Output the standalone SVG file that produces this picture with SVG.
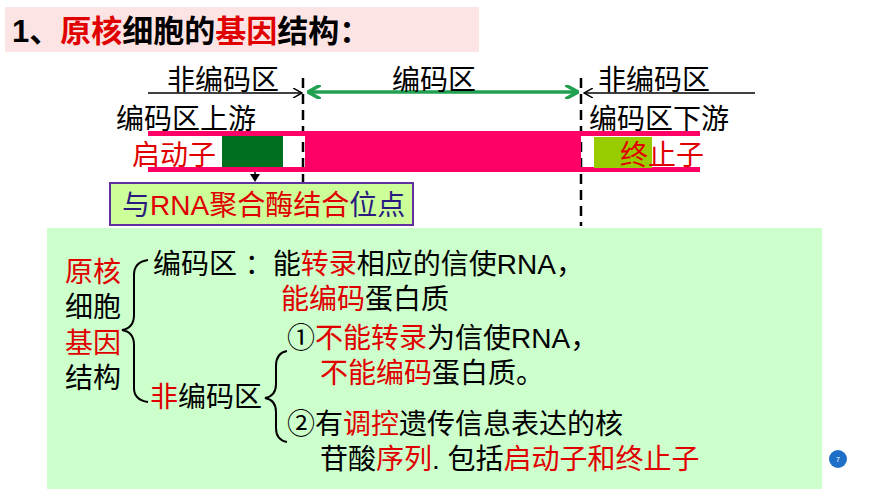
<svg xmlns="http://www.w3.org/2000/svg" width="870" height="489" viewBox="0 0 870 489">
<defs>
<style>
text{font-family:"Liberation Sans","Noto Sans CJK SC",sans-serif;font-size:28px;fill:#000}
.r{fill:#E00000}
.n{fill:#2A1A80}
</style>
<marker id="ab" viewBox="0 0 10 10" refX="9" refY="5" markerWidth="10" markerHeight="10" markerUnits="userSpaceOnUse" orient="auto"><path d="M0,0 L9,5 L0,10" fill="none" stroke="#000" stroke-width="1.5"/></marker>
<marker id="ag" viewBox="0 0 10 10" refX="9" refY="5" markerWidth="14" markerHeight="14" markerUnits="userSpaceOnUse" orient="auto-start-reverse"><path d="M0,0 L9,5 L0,10" fill="none" stroke="#20A050" stroke-width="2.5"/></marker>
</defs>
<rect width="870" height="489" fill="#fff"/>
<g id="title">
<rect x="5" y="7" width="474" height="45" fill="#FCE4E4"/>
<text x="12" y="42" style="font-size:31px;font-weight:bold">1、<tspan class="r">原核</tspan>细胞的<tspan class="r">基因</tspan>结构：</text>
</g>
<g id="connectors">
<line x1="148" y1="93" x2="302" y2="93" stroke="#000" stroke-width="1.5" marker-end="url(#ab)"/>
<line x1="755" y1="93" x2="584" y2="93" stroke="#000" stroke-width="1.5" marker-end="url(#ab)"/>
<line x1="308" y1="92" x2="578" y2="92" stroke="#20A050" stroke-width="3.5" marker-start="url(#ag)" marker-end="url(#ag)"/>
<line x1="303" y1="78" x2="303" y2="226" stroke="#000" stroke-width="2.5" stroke-dasharray="10,6"/>
<line x1="581" y1="78" x2="581" y2="226" stroke="#000" stroke-width="2.5" stroke-dasharray="10,6"/>
<line x1="255" y1="168" x2="255" y2="176" stroke="#000" stroke-width="1.5"/>
<path d="M250,174 L260,174 L255,182 Z" fill="#000"/>
</g>
<g id="labels">
<text x="167" y="90">非编码区</text>
<text x="392" y="90">编码区</text>
<text x="598" y="90">非编码区</text>
<text x="116" y="129">编码区上游</text>
<text x="589" y="129">编码区下游</text>
</g>
<g id="gene">
<rect x="148" y="131" width="552" height="5" fill="#FF0066"/>
<rect x="148" y="167" width="552" height="5" fill="#FF0066"/>
<rect x="305" y="131" width="276" height="41" fill="#FF0066"/>
<rect x="222" y="136" width="61" height="31" fill="#007020"/>
<rect x="594" y="137" width="58" height="31" fill="#99CC00"/>
<text x="132" y="165" class="r">启动子</text>
<text x="620" y="165" class="r">终止子</text>
</g>
<g id="site">
<rect x="110" y="183" width="303" height="42" fill="#CCFF99" stroke="#6030A0" stroke-width="2"/>
<text x="122" y="215"><tspan class="n">与</tspan><tspan class="r">RNA聚合酶结合</tspan><tspan class="n">位点</tspan></text>
</g>
<g id="summary">
<rect x="47" y="228" width="775" height="261" fill="#CCFFCC"/>
<text x="65" y="282" class="r">原核</text>
<text x="65" y="317">细胞</text>
<text x="65" y="353" class="r">基因</text>
<text x="65" y="388">结构</text>
<path d="M148,260 Q134,262 134,275 L134,315 Q134,328 122,330 Q134,332 134,345 L134,388 Q134,400 148,402" fill="none" stroke="#000" stroke-width="2"/>
<text x="153" y="274">编码区 ：能<tspan class="r">转录</tspan>相应的信使RNA，</text>
<text x="281" y="309"><tspan class="r">能编码</tspan>蛋白质</text>
<text x="150" y="407"><tspan class="r">非</tspan>编码区</text>
<path d="M287,351 Q276,353 276,366 L276,384 Q276,396 265,398 Q276,400 276,412 L276,428 Q276,440 287,442" fill="none" stroke="#000" stroke-width="2"/>
<text x="287" y="348">①<tspan class="r">不能转录</tspan>为信使RNA，</text>
<text x="320" y="383"><tspan class="r">不能编码</tspan>蛋白质。</text>
<text x="287" y="434">②有<tspan class="r">调控</tspan>遗传信息表达的核</text>
<text x="320" y="469">苷酸<tspan class="r">序列</tspan>. 包括<tspan class="r">启动子和终止子</tspan></text>
</g>
<g id="page">
<circle cx="838" cy="459" r="9" fill="#1E6FC8"/>
<text x="838" y="462" text-anchor="middle" style="font-size:7px;fill:#fff">7</text>
</g>
</svg>
